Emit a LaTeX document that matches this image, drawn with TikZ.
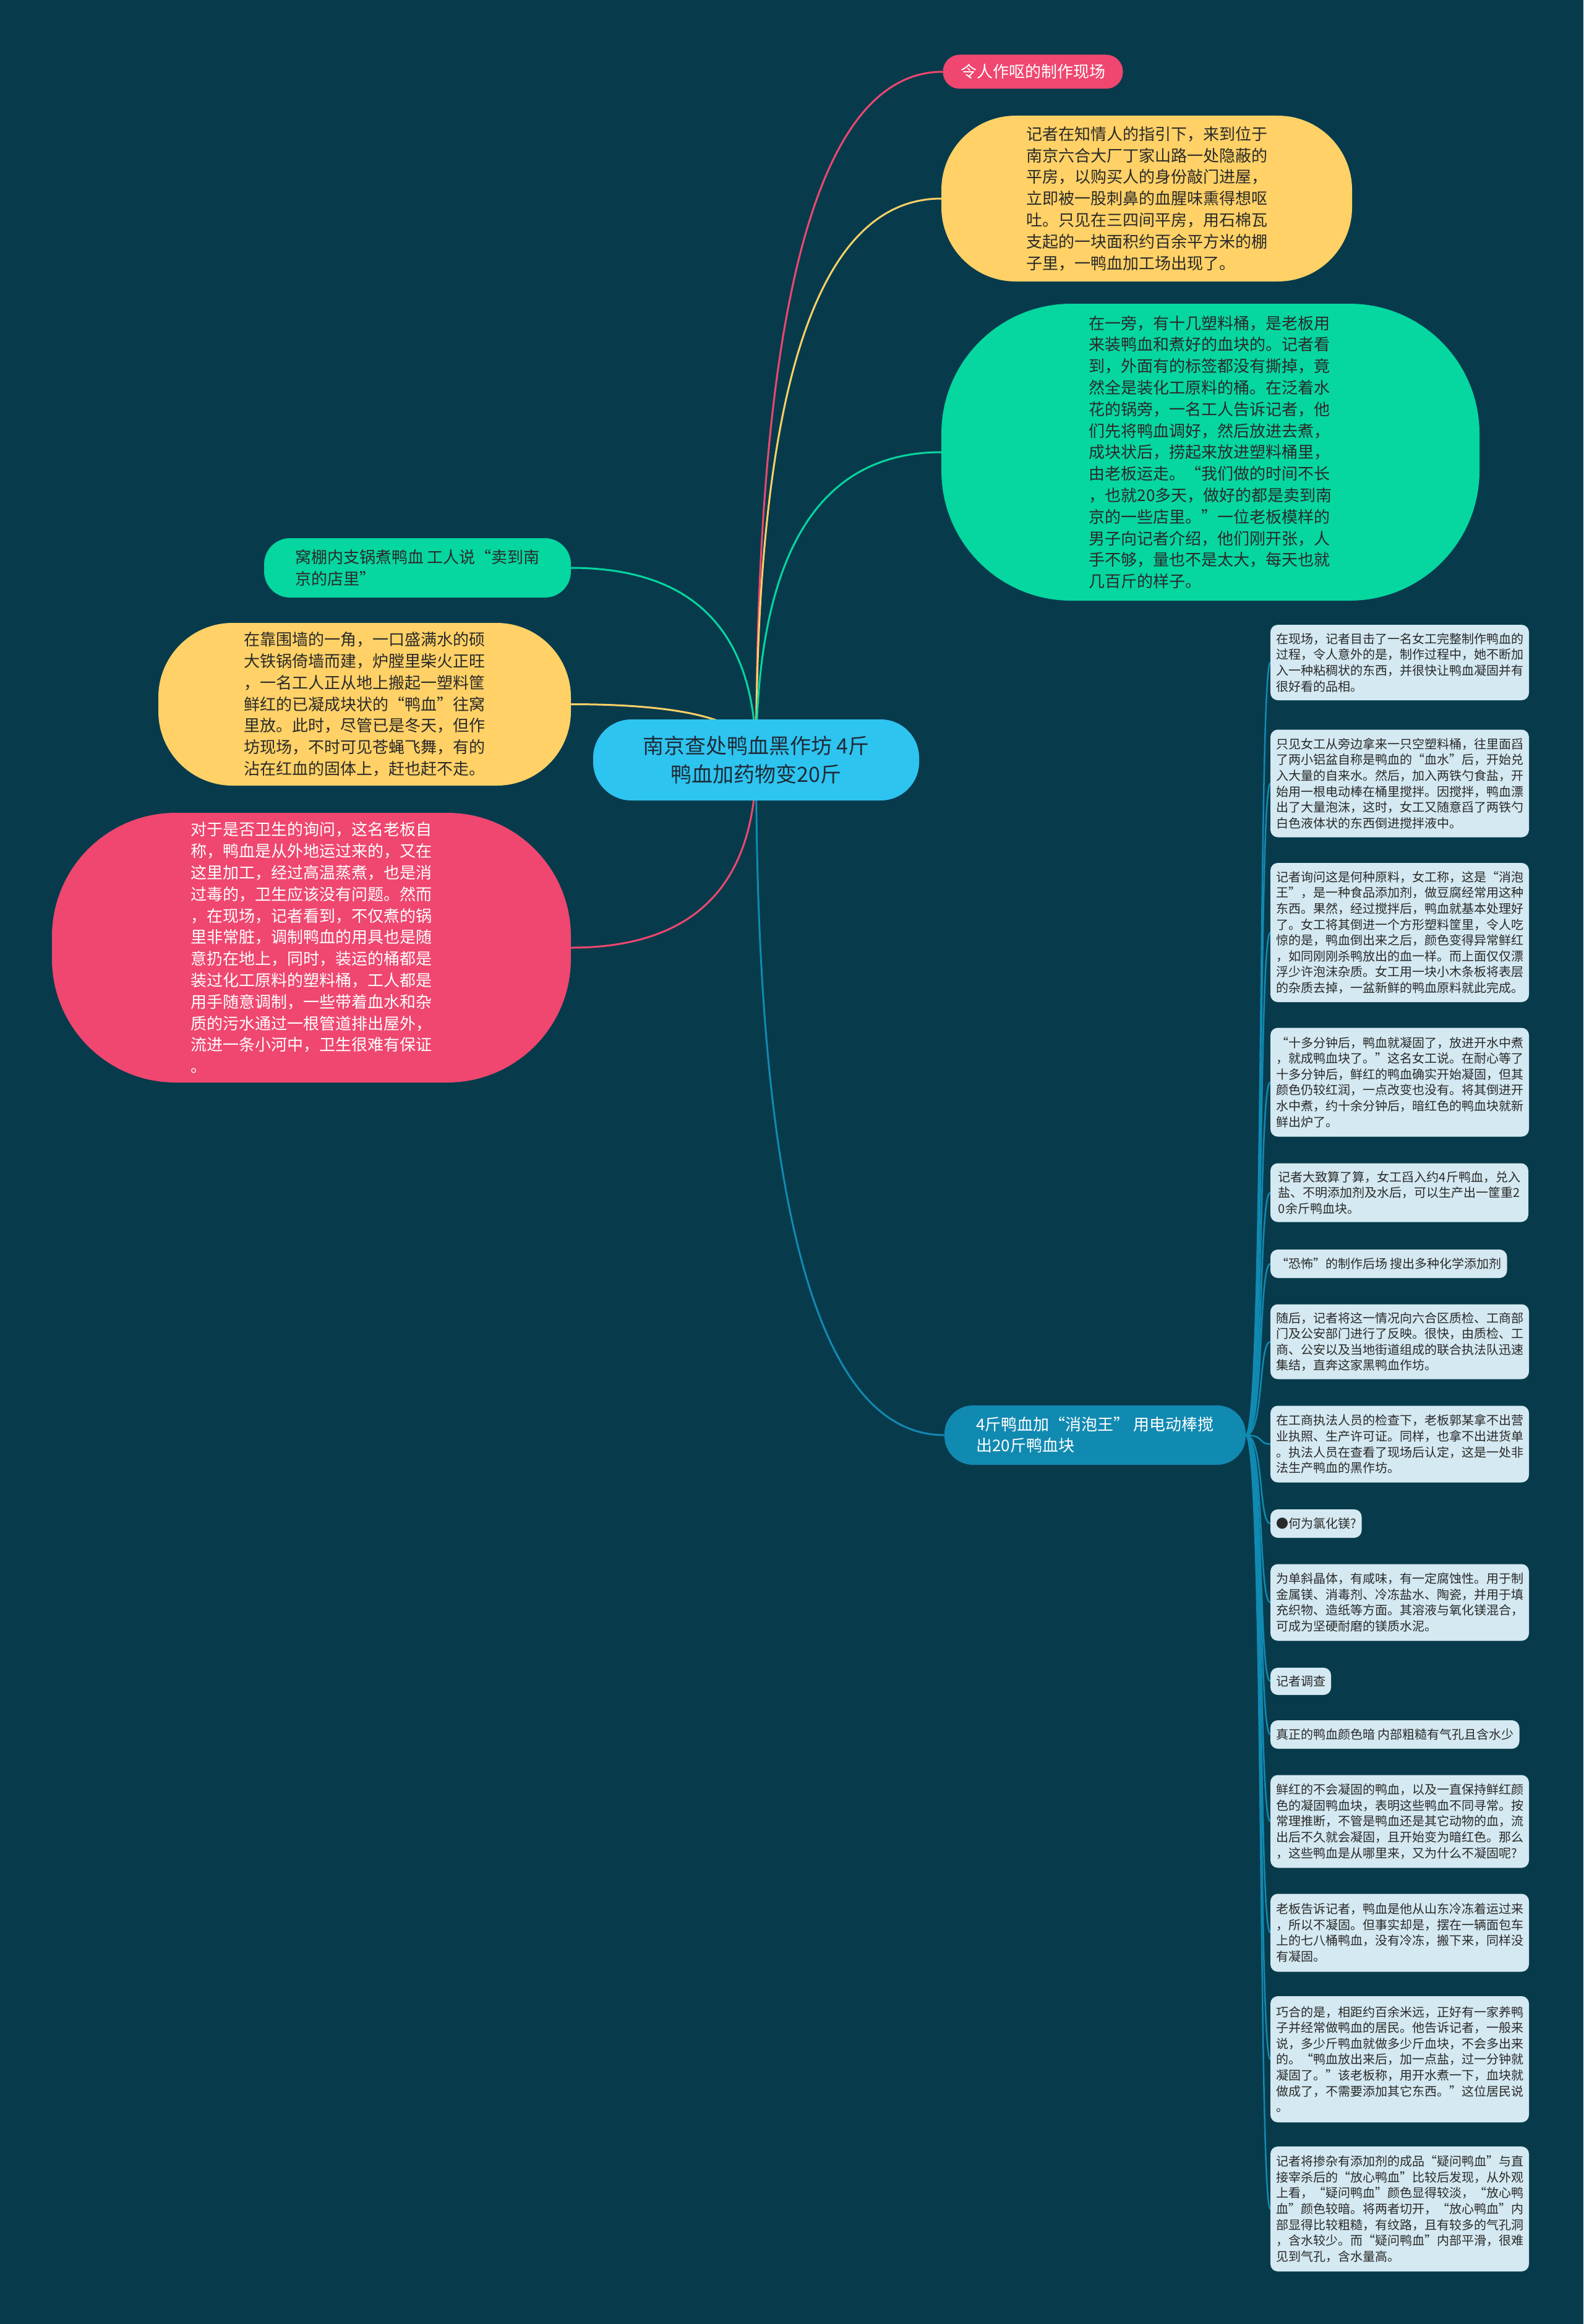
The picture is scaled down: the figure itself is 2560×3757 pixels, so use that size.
\documentclass[tikz,border=0pt]{standalone}
\usepackage{fontspec}
\setmainfont{Noto Sans CJK SC}
\usetikzlibrary{calc}
\definecolor{bgc}{HTML}{073B4C}
\definecolor{cpink}{HTML}{EF476F}
\definecolor{cyel}{HTML}{FFD166}
\definecolor{cgrn}{HTML}{06D6A0}
\definecolor{cteal}{HTML}{118AB2}
\definecolor{ccen}{HTML}{2EC4F0}
\definecolor{citem}{HTML}{D4E9F1}
\definecolor{tdark}{HTML}{2A2A2A}
\definecolor{tcen}{HTML}{1E2B37}
\pgfdeclarelayer{bglayer}
\pgfdeclarelayer{lnklayer}
\pgfsetlayers{bglayer,lnklayer,main}
\newcommand{\mlink}[3]{\draw[#1] (#2) .. controls ($(#2)!0.667!(#2 |- #3)$) and ($(#2 |- #3)!0.333!(#3)$) .. (#3);}
\newcommand{\rlink}[2]{\draw[rlk] (#1.east) .. controls ($(#1.east)+(30,0)$) and ($(#2.west)+(-20,0)$) .. (#2.west);}
\tikzset{
  every node/.style={inner sep=0pt, outer sep=0pt},
  mlk/.style={line width=3pt},
  rlk/.style={line width=2.5pt, draw=cteal},
  bignode/.style={font=\fontsize{26}{34.8}\selectfont, align=left, text=tdark},
  labnode/.style={font=\fontsize{26}{34}\selectfont, align=left},
  cennode/.style={font=\fontsize{34}{46}\selectfont, align=center, text=tcen, fill=ccen},
  itembox/.style={font=\fontsize{20}{25.6}\selectfont, align=left, text=tdark, fill=citem,
    rounded corners=12pt, anchor=west, inner xsep=9pt, inner ysep=8pt},
  itemwide/.style={itembox, minimum width=417pt}
}
\begin{document}
\begin{tikzpicture}[x=1pt,y=-1pt]
\begin{pgfonlayer}{bglayer}
\fill[bgc] (0,0) rectangle (2560,3757);
\end{pgfonlayer}
\useasboundingbox (0,0) rectangle (2560,3757);

% central node
\node[cennode, minimum width=527pt, minimum height=131pt, rounded corners=62pt] (c) at (1222.5,1228.5)
  {南京查处鸭血黑作坊 4斤\\鸭血加药物变20斤};

% upper right
\node[labnode, fill=cpink, text=white, minimum width=291pt, minimum height=55pt, rounded corners=27pt] (pl) at (1670,116) {令人作呕的制作现场};

\node[bignode, fill=cyel, minimum width=664pt, minimum height=268pt, rounded corners=120pt] (yt) at (1854,321)
{记者在知情人的指引下，来到位于\\
南京六合大厂丁家山路一处隐蔽的\\
平房，以购买人的身份敲门进屋，\\
立即被一股刺鼻的血腥味熏得想呕\\
吐。只见在三四间平房，用石棉瓦\\
支起的一块面积约百余平方米的棚\\
子里，一鸭血加工场出现了。};

\node[bignode, fill=cgrn, minimum width=870pt, minimum height=480pt, rounded corners=210pt] (gb) at (1957,731)
{在一旁，有十几塑料桶，是老板用\\
来装鸭血和煮好的血块的。记者看\\
到，外面有的标签都没有撕掉，竟\\
然全是装化工原料的桶。在泛着水\\
花的锅旁，一名工人告诉记者，他\\
们先将鸭血调好，然后放进去煮，\\
成块状后，捞起来放进塑料桶里，\\
由老板运走。“我们做的时间不长\\
，也就20多天，做好的都是卖到南\\
京的一些店里。”一位老板模样的\\
男子向记者介绍，他们刚开张，人\\
手不够，量也不是太大，每天也就\\
几百斤的样子。};

% left
\node[bignode, fill=cgrn, minimum width=496pt, minimum height=96pt, rounded corners=42pt] (gs) at (675,918)
{窝棚内支锅煮鸭血 工人说“卖到南\\京的店里”};

\node[bignode, fill=cyel, minimum width=667pt, minimum height=263pt, rounded corners=120pt] (yl) at (589.5,1138.5)
{在靠围墙的一角，一口盛满水的硕\\
大铁锅倚墙而建，炉膛里柴火正旺\\
，一名工人正从地上搬起一塑料筐\\
鲜红的已凝成块状的“鸭血”往窝\\
里放。此时，尽管已是冬天，但作\\
坊现场，不时可见苍蝇飞舞，有的\\
沾在红血的固体上，赶也赶不走。};

\node[bignode, fill=cpink, text=white, minimum width=839pt, minimum height=436pt, rounded corners=200pt] (pk) at (503.5,1532)
{对于是否卫生的询问，这名老板自\\
称，鸭血是从外地运过来的，又在\\
这里加工，经过高温蒸煮，也是消\\
过毒的，卫生应该没有问题。然而\\
，在现场，记者看到，不仅煮的锅\\
里非常脏，调制鸭血的用具也是随\\
意扔在地上，同时，装运的桶都是\\
装过化工原料的塑料桶，工人都是\\
用手随意调制，一些带着血水和杂\\
质的污水通过一根管道排出屋外，\\
流进一条小河中，卫生很难有保证\\
。};

% lower right branch
\node[labnode, fill=cteal, text=white, minimum width=487pt, minimum height=96pt, rounded corners=46pt] (tl) at (1770.5,2320)
{4斤鸭血加“消泡王” 用电动棒搅\\出20斤鸭血块};

\node[itemwide, minimum height=122pt] (i1) at (2054,1071)
{在现场，记者目击了一名女工完整制作鸭血的\\过程，令人意外的是，制作过程中，她不断加\\入一种粘稠状的东西，并很快让鸭血凝固并有\\很好看的品相。};
\node[itemwide, minimum height=174pt] (i2) at (2054,1266.5)
{只见女工从旁边拿来一只空塑料桶，往里面舀\\了两小铝盆自称是鸭血的“血水”后，开始兑\\入大量的自来水。然后，加入两铁勺食盐，开\\始用一根电动棒在桶里搅拌。因搅拌，鸭血漂\\出了大量泡沫，这时，女工又随意舀了两铁勺\\白色液体状的东西倒进搅拌液中。};
\node[itemwide, minimum height=225pt] (i3) at (2054,1507.5)
{记者询问这是何种原料，女工称，这是“消泡\\王”，是一种食品添加剂，做豆腐经常用这种\\东西。果然，经过搅拌后，鸭血就基本处理好\\了。女工将其倒进一个方形塑料筐里，令人吃\\惊的是，鸭血倒出来之后，颜色变得异常鲜红\\，如同刚刚杀鸭放出的血一样。而上面仅仅漂\\浮少许泡沫杂质。女工用一块小木条板将表层\\的杂质去掉，一盆新鲜的鸭血原料就此完成。};
\node[itemwide, minimum height=176pt] (i4) at (2054,1749.5)
{“十多分钟后，鸭血就凝固了，放进开水中煮\\，就成鸭血块了。”这名女工说。在耐心等了\\十多分钟后，鲜红的鸭血确实开始凝固，但其\\颜色仍较红润，一点改变也没有。将其倒进开\\水中煮，约十余分钟后，暗红色的鸭血块就新\\鲜出炉了。};
\node[itemwide, minimum height=95pt] (i5) at (2054,1928)
{记者大致算了算，女工舀入约4斤鸭血，兑入\\盐、不明添加剂及水后，可以生产出一筐重2\\0余斤鸭血块。};
\node[itembox, minimum height=46pt] (i6) at (2054,2043)
{“恐怖”的制作后场 搜出多种化学添加剂};
\node[itemwide, minimum height=121pt] (i7) at (2054,2169)
{随后，记者将这一情况向六合区质检、工商部\\门及公安部门进行了反映。很快，由质检、工\\商、公安以及当地街道组成的联合执法队迅速\\集结，直奔这家黑鸭血作坊。};
\node[itemwide, minimum height=124pt] (i8) at (2054,2334.5)
{在工商执法人员的检查下，老板郭某拿不出营\\业执照、生产许可证。同样，也拿不出进货单\\。执法人员在查看了现场后认定，这是一处非\\法生产鸭血的黑作坊。};
\node[itembox, minimum height=46pt] (i9) at (2054,2463) {●何为氯化镁?};
\node[itemwide, minimum height=124pt] (i10) at (2054,2590.5)
{为单斜晶体，有咸味，有一定腐蚀性。用于制\\金属镁、消毒剂、冷冻盐水、陶瓷，并用于填\\充织物、造纸等方面。其溶液与氧化镁混合，\\可成为坚硬耐磨的镁质水泥。};
\node[itembox, minimum height=44pt] (i11) at (2054,2718) {记者调查};
\node[itembox, minimum height=46pt] (i12) at (2054,2804) {真正的鸭血颜色暗 内部粗糙有气孔且含水少};
\node[itemwide, minimum height=150pt] (i13) at (2054,2944.5)
{鲜红的不会凝固的鸭血，以及一直保持鲜红颜\\色的凝固鸭血块，表明这些鸭血不同寻常。按\\常理推断，不管是鸭血还是其它动物的血，流\\出后不久就会凝固，且开始变为暗红色。那么\\，这些鸭血是从哪里来，又为什么不凝固呢?};
\node[itemwide, minimum height=126pt] (i14) at (2054,3124.5)
{老板告诉记者，鸭血是他从山东冷冻着运过来\\，所以不凝固。但事实却是，摆在一辆面包车\\上的七八桶鸭血，没有冷冻，搬下来，同样没\\有凝固。};
\node[itemwide, minimum height=204pt] (i15) at (2054,3329)
{巧合的是，相距约百余米远，正好有一家养鸭\\子并经常做鸭血的居民。他告诉记者，一般来\\说，多少斤鸭血就做多少斤血块，不会多出来\\的。“鸭血放出来后，加一点盐，过一分钟就\\凝固了。”该老板称，用开水煮一下，血块就\\做成了，不需要添加其它东西。”这位居民说\\。};
\node[itemwide, minimum height=202pt] (i16) at (2054,3571)
{记者将掺杂有添加剂的成品“疑问鸭血”与直\\接宰杀后的“放心鸭血”比较后发现，从外观\\上看，“疑问鸭血”颜色显得较淡，“放心鸭\\血”颜色较暗。将两者切开，“放心鸭血”内\\部显得比较粗糙，有纹路，且有较多的气孔洞\\，含水较少。而“疑问鸭血”内部平滑，很难\\见到气孔，含水量高。};

% connectors
\begin{pgfonlayer}{lnklayer}
\mlink{mlk,draw=cpink}{c.center}{pl.west}
\mlink{mlk,draw=cyel}{c.center}{yt.west}
\mlink{mlk,draw=cgrn}{c.center}{gb.west}
\mlink{mlk,draw=cgrn}{c.center}{gs.east}
\mlink{mlk,draw=cyel}{c.center}{yl.east}
\mlink{mlk,draw=cpink}{c.center}{pk.east}
\mlink{mlk,draw=cteal}{c.center}{tl.west}
\foreach \k in {1,...,16}{\rlink{tl}{i\k}}
\end{pgfonlayer}
\end{tikzpicture}
\end{document}
